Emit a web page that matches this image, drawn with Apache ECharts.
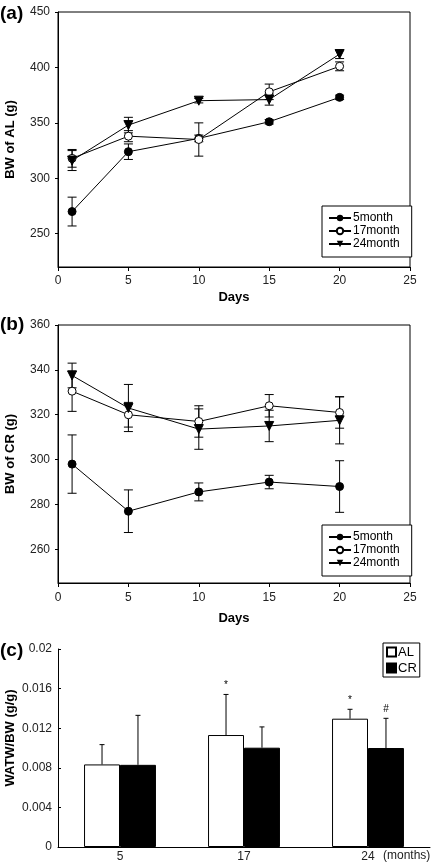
<!DOCTYPE html>
<html><head><meta charset="utf-8">
<script src="https://cdn.jsdelivr.net/npm/echarts@6/dist/echarts.min.js"></script>
<style>html,body{margin:0;padding:0;background:#fff}#c{width:432px;height:862px}</style>
</head><body><div id="c"></div>
<script>
// ---- data ----
const days = [1, 5, 10, 15, 20];
const seriesNames = ['5month', '17month', '24month'];
// Panel (a) BW of AL
const al5 = [270, 324, 336, 351, 373];
const al5Err = [13, 7, 3, 2, 2];
const al17 = [318, 338, 335, 378, 401];
const al17Err = [8, 5, 15, 7, 4];
const al24 = [316, 348, 370, 371, 412];
const al24Err = [9, 7, 2, 5, 4];
// Panel (b) BW of CR
const cr5 = [298, 277, 285.6, 290, 288];
const cr5Err = [13, 9.5, 4, 3, 11.5];
const cr17 = [330.5, 320, 317, 324, 321];
const cr17Err = [9, 5.5, 7, 5, 7];
const cr24 = [337.5, 323, 313.6, 315, 317.5];
const cr24Err = [5.5, 10.5, 9, 7, 10.5];
// Panel (c) WATW/BW
const months = ['5', '17', '24'];
const watAL = [0.00834, 0.01131, 0.01296];
const watALErr = [0.0020, 0.0041, 0.00095];
const watCR = [0.0083, 0.01003, 0.0100];
const watCRErr = [0.0050, 0.0021, 0.0030];
const annAL = ['', '*', '*'];
const annCR = ['', '', '#'];
// tick labels
const ticksA = [250, 300, 350, 400, 450];
const ticksB = [260, 280, 300, 320, 340, 360];

const FONT = 'Liberation Sans, Arial, sans-serif';
const chart = echarts.init(document.getElementById('c'), null, {renderer: 'canvas'});

function pairs(xs, ys) { return xs.map((x, i) => [x, ys[i]]); }
function triples(xs, ys, es) { return xs.map((x, i) => [x, ys[i], es[i]]); }

function errItem(params, api) {
  const x = api.value(0), y = api.value(1), e = api.value(2);
  const t = api.coord([x, y + e]), b = api.coord([x, y - e]);
  const w = 4.5, st = {stroke: '#000', lineWidth: 1};
  return {type: 'group', children: [
    {type: 'line', shape: {x1: t[0], y1: t[1], x2: b[0], y2: b[1]}, style: st},
    {type: 'line', shape: {x1: t[0] - w, y1: t[1], x2: t[0] + w, y2: t[1]}, style: st},
    {type: 'line', shape: {x1: b[0] - w, y1: b[1], x2: b[0] + w, y2: b[1]}, style: st}
  ]};
}
function barErrFactory(sign, ann) {
  return function (params, api) {
    const x = api.value(0), y = api.value(1), e = api.value(2);
    const band = api.size([1, 0])[0];
    const off = sign * band * 0.29 / 2;
    const p = api.coord([x, y]), t = api.coord([x, y + e]);
    const cx = p[0] + off, w = 2.5, st = {stroke: '#000', lineWidth: 1};
    const ch = [
      {type: 'line', shape: {x1: cx, y1: p[1], x2: cx, y2: t[1]}, style: st},
      {type: 'line', shape: {x1: cx - w, y1: t[1], x2: cx + w, y2: t[1]}, style: st}
    ];
    const a = ann[params.dataIndex];
    if (a) ch.push({type: 'text', x: cx, y: t[1] - 4, style: {text: a, fontFamily: FONT, fontSize: 10, fill: '#000', align: 'center', verticalAlign: 'bottom'}});
    return {type: 'group', children: ch};
  };
}

const markers = [
  {symbol: 'circle', symbolSize: 8, itemStyle: {color: '#000', borderColor: '#000'}, symbolRotate: 0},
  {symbol: 'circle', symbolSize: 8, itemStyle: {color: '#fff', borderColor: '#000', borderWidth: 1}, symbolRotate: 0},
  {symbol: 'triangle', symbolSize: 9, itemStyle: {color: '#000', borderColor: '#000'}, symbolRotate: 180}
];

function lineSeries(idx, name, vals, errs, m) {
  return [
    {type: 'custom', name: name + '_err', xAxisIndex: idx, yAxisIndex: idx, renderItem: errItem,
     data: triples(days, vals, errs), encode: {x: 0, y: 1}, z: 1, silent: true},
    {type: 'line', name: name, xAxisIndex: idx, yAxisIndex: idx, data: pairs(days, vals),
     symbol: m.symbol, symbolSize: m.symbolSize, symbolRotate: m.symbolRotate,
     showAllSymbol: true, lineStyle: {color: '#000', width: 1}, itemStyle: m.itemStyle, z: 3}
  ];
}

const axisTxt = {color: '#222', fontFamily: FONT, fontSize: 12};
const nameTxt = {color: '#000', fontFamily: FONT, fontSize: 13, fontWeight: 'bold'};
const legendLine = (top) => ({
  orient: 'vertical', left: 322, top: top, data: seriesNames,
  backgroundColor: '#fff', borderColor: '#000', borderWidth: 1,
  padding: [6, 12, 7, 6], itemWidth: 22, itemHeight: 8, itemGap: 1,
  textStyle: {fontFamily: FONT, fontSize: 12, color: '#000', lineHeight: 12, padding: [0, 0, 0, -3]}
});

const option = {
  animation: false,
  backgroundColor: '#fff',
  grid: [
    {left: 58, top: 12, width: 352, height: 255, show: true, borderColor: '#000', borderWidth: 1, outerBoundsMode: 'none', containLabel: false},
    {left: 58, top: 325, width: 352, height: 258, show: true, borderColor: '#000', borderWidth: 1, outerBoundsMode: 'none', containLabel: false},
    {left: 58, top: 649, width: 372, height: 198, outerBoundsMode: 'none', containLabel: false}
  ],
  xAxis: [
    {gridIndex: 0, type: 'value', min: 0, max: 25, interval: 5, name: 'Days', nameLocation: 'middle', nameGap: 24,
     nameTextStyle: nameTxt, axisLine: {lineStyle: {color: '#000'}}, axisTick: {length: 4, lineStyle: {color: '#000'}},
     axisLabel: Object.assign({margin: 8}, axisTxt), splitLine: {show: false}},
    {gridIndex: 1, type: 'value', min: 0, max: 25, interval: 5, name: 'Days', nameLocation: 'middle', nameGap: 29,
     nameTextStyle: nameTxt, axisLine: {lineStyle: {color: '#000'}}, axisTick: {length: 4, lineStyle: {color: '#000'}},
     axisLabel: Object.assign({margin: 9}, axisTxt), splitLine: {show: false}},
    {gridIndex: 2, type: 'category', data: months, axisLine: {lineStyle: {color: '#000'}},
     axisTick: {length: 4, lineStyle: {color: '#000'}}, axisLabel: Object.assign({margin: 4}, axisTxt)}
  ],
  yAxis: [
    {gridIndex: 0, type: 'value', min: 220, max: 450, name: 'BW of AL (g)', nameLocation: 'middle', nameGap: 41,
     nameMoveOverlap: false,
     nameTextStyle: nameTxt, axisLine: {lineStyle: {color: '#000'}},
     axisTick: {length: 3, customValues: ticksA, lineStyle: {color: '#000'}},
     axisLabel: Object.assign({customValues: ticksA, margin: 8}, axisTxt), splitLine: {show: false}},
    {gridIndex: 1, type: 'value', min: 245, max: 360, name: 'BW of CR (g)', nameLocation: 'middle', nameGap: 41,
     nameMoveOverlap: false,
     nameTextStyle: nameTxt, axisLine: {lineStyle: {color: '#000'}},
     axisTick: {length: 3, customValues: ticksB, lineStyle: {color: '#000'}},
     axisLabel: Object.assign({customValues: ticksB, margin: 8}, axisTxt), splitLine: {show: false}},
    {gridIndex: 2, type: 'value', min: 0, max: 0.02, interval: 0.004, name: 'WATW/BW (g/g)', nameLocation: 'middle', nameGap: 41,
     nameMoveOverlap: false,
     nameTextStyle: Object.assign({padding: [0, 0, 0, 20]}, nameTxt), axisLine: {show: true, lineStyle: {color: '#000'}},
     axisTick: {show: true, inside: true, length: 3, lineStyle: {color: '#000'}},
     axisLabel: Object.assign({margin: 6, formatter: v => String(+v.toFixed(4))}, axisTxt), splitLine: {show: false}}
  ],
  legend: [
    legendLine(206),
    legendLine(525),
    {orient: 'vertical', left: 383, top: 643, data: ['AL', 'CR'], icon: 'rect',
     backgroundColor: '#fff', borderColor: '#000', borderWidth: 1,
     padding: [2, 3, 2, 3], itemWidth: 9, itemHeight: 9, itemGap: 2,
     textStyle: {fontFamily: FONT, fontSize: 13, color: '#000', lineHeight: 14, padding: [0, 0, 0, -3]}}
  ],
  graphic: [
    {type: 'text', left: 0, top: 4, style: {text: '(a)', font: 'bold 19px ' + FONT, fill: '#000'}},
    {type: 'text', left: 0, top: 315, style: {text: '(b)', font: 'bold 19px ' + FONT, fill: '#000'}},
    {type: 'text', left: 0, top: 641, style: {text: '(c)', font: 'bold 19px ' + FONT, fill: '#000'}},
    {type: 'text', left: 383, top: 850, style: {text: '(months)', font: '12px ' + FONT, fill: '#222'}}
  ],
  series: [].concat(
    lineSeries(0, '5month', al5, al5Err, markers[0]),
    lineSeries(0, '17month', al17, al17Err, markers[1]),
    lineSeries(0, '24month', al24, al24Err, markers[2]),
    lineSeries(1, '5month', cr5, cr5Err, markers[0]),
    lineSeries(1, '17month', cr17, cr17Err, markers[1]),
    lineSeries(1, '24month', cr24, cr24Err, markers[2]),
    [
      {type: 'bar', name: 'AL', xAxisIndex: 2, yAxisIndex: 2, data: watAL, barGap: '0%', barCategoryGap: '42%',
       itemStyle: {color: '#fff', borderColor: '#000', borderWidth: 1}, z: 2},
      {type: 'bar', name: 'CR', xAxisIndex: 2, yAxisIndex: 2, data: watCR, barGap: '0%', barCategoryGap: '42%',
       itemStyle: {color: '#000', borderColor: '#000', borderWidth: 1}, z: 2},
      {type: 'custom', name: 'AL_err', xAxisIndex: 2, yAxisIndex: 2, renderItem: barErrFactory(-1, annAL),
       data: watAL.map((v, i) => [i, v, watALErr[i]]), encode: {x: 0, y: 1}, z: 3, silent: true},
      {type: 'custom', name: 'CR_err', xAxisIndex: 2, yAxisIndex: 2, renderItem: barErrFactory(1, annCR),
       data: watCR.map((v, i) => [i, v, watCRErr[i]]), encode: {x: 0, y: 1}, z: 3, silent: true}
    ]
  )
};
chart.setOption(option);
</script></body></html>
